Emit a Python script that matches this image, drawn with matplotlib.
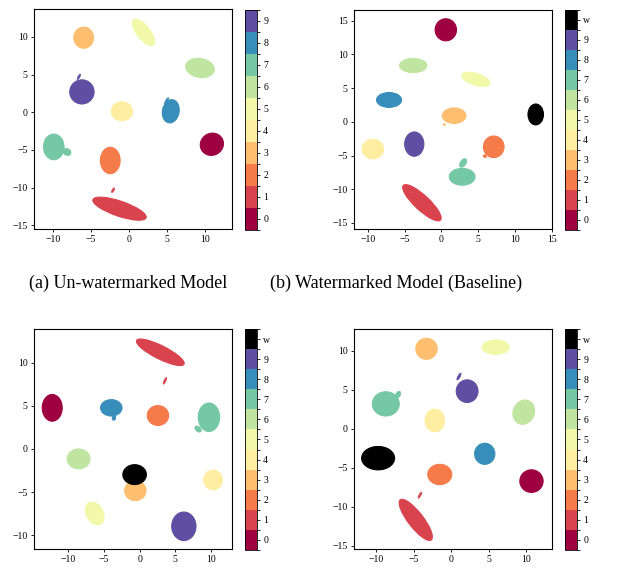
import matplotlib
matplotlib.use("Agg")
import matplotlib.pyplot as plt
import numpy as np
from matplotlib.patches import Ellipse
from matplotlib.colors import ListedColormap, BoundaryNorm
from matplotlib.cm import ScalarMappable

plt.rcParams['font.family'] = ['Liberation Serif', 'DejaVu Serif']

# cluster blobs: label, centre x, centre y, width, height, angle (deg)
a_lab = [3, 5, 6, 9, 4, 8, 7, 0, 2, 1]
a_x = [-5.97, 1.9, 9.34, -6.2, -0.94, 5.49, -9.9, 10.9, -2.47, -1.25]
a_y = [9.9, 10.6, 5.88, 2.7, 0.13, 0.13, -4.6, -4.25, -6.4, -12.8]
a_w = [2.6, 4.2, 3.8, 3.2, 2.8, 3.1, 3.4, 3.1, 3.5, 7.4]
a_h = [2.8, 1.75, 2.5, 3.2, 2.5, 2.2, 2.7, 2.9, 2.6, 2.0]
a_ang = [0, -52, -10, 0, 0, 80, 90, 30, 90, -19]
# small satellite pieces
a_tail = [(7, -8.16, -5.27, 1.1, 0.9), (9, -6.6, 4.7, 0.25, 0.8),
          (8, 4.95, 1.5, 0.3, 1.0), (1, -2.1, -10.35, 0.25, 0.7)]

b_lab = [0, 6, 5, 8, 3, 10, 9, 4, 2, 7, 1]
b_x = [0.6, -3.82, 4.67, -7.1, 1.73, 12.8, -3.68, -9.3, 7.1, 2.82, -2.64]
b_y = [13.66, 8.36, 6.32, 3.25, 0.92, 1.1, -3.3, -4.04, -3.7, -8.15, -12.0]
b_w = [2.9, 3.7, 4.0, 3.4, 3.2, 2.1, 2.6, 2.9, 2.8, 3.5, 7.2]
b_h = [3.27, 2.1, 1.7, 2.2, 2.3, 3.1, 3.6, 2.9, 3.2, 2.5, 2.1]
b_ang = [0, 0, -20, 0, 0, 0, 0, 0, 0, 0, -46]
b_tail = [(7, 2.95, -6.1, 0.8, 1.4), (3, 0.4, -0.4, 0.3, 0.3),
          (2, 5.9, -5.1, 0.5, 0.4)]

c_lab = [1, 0, 8, 2, 7, 6, 3, 10, 4, 5, 9]
c_x = [2.9, -12.25, -3.97, 2.57, 9.72, -8.55, -0.6, -0.7, 10.3, -6.3, 6.2]
c_y = [11.2, 4.76, 4.76, 3.87, 3.67, -1.16, -4.84, -2.98, -3.6, -7.47, -8.97]
c_w = [7.2, 2.8, 3.0, 3.0, 3.0, 3.2, 3.0, 3.3, 2.6, 3.0, 3.4]
c_h = [1.6, 3.1, 1.9, 2.3, 3.3, 2.3, 2.3, 2.3, 2.3, 2.2, 3.3]
c_ang = [-22, 0, 0, 0, 0, 0, 0, 0, 0, -45, 0]
c_tail = [(1, 3.55, 7.9, 0.25, 0.9), (7, 8.2, 2.3, 1.0, 0.6),
          (8, -3.6, 3.6, 0.5, 0.6)]

d_lab = [3, 5, 9, 7, 6, 4, 10, 8, 2, 0, 1]
d_x = [-3.33, 5.9, 2.09, -8.76, 9.64, -2.22, -9.78, 4.44, -1.56, 10.67, -4.76]
d_y = [10.26, 10.47, 4.83, 3.2, 2.14, 1.07, -3.76, -3.2, -5.85, -6.7, -11.67]
d_w = [2.85, 3.6, 2.9, 3.6, 2.8, 2.6, 4.4, 2.7, 3.2, 3.1, 6.6]
d_h = [2.7, 1.85, 2.9, 3.1, 3.2, 2.9, 3.0, 2.7, 2.6, 2.9, 2.0]
d_ang = [0, 0, 0, 0, -30, 0, 0, 0, 0, 0, -51]
d_tail = [(9, 1.0, 6.7, 0.3, 1.0), (7, -7.1, 4.4, 0.6, 0.9),
          (1, -4.2, -8.5, 0.25, 0.9)]

captions = ['(a) Un-watermarked Model', '(b) Watermarked Model (Baseline)']

base = plt.get_cmap('Spectral', 10)
cols10 = [base(i) for i in range(10)]
cols11 = cols10 + [(0, 0, 0, 1)]

fig = plt.figure(figsize=(6.21, 5.68), dpi=100)

panels = [
    (a_lab, a_x, a_y, a_w, a_h, a_ang, a_tail, (-12.5, 13.55), (-15.5, 13.7),
     [-10, -5, 0, 5, 10], [-15, -10, -5, 0, 5, 10], 10,
     [0.0548, 0.5968, 0.3188, 0.3873], [0.3945, 0.5951, 0.0193, 0.3873]),
    (b_lab, b_x, b_y, b_w, b_h, b_ang, b_tail, (-11.86, 15.0), (-15.9, 16.6),
     [-10, -5, 0, 5, 10, 15], [-15, -10, -5, 0, 5, 10, 15], 11,
     [0.5700, 0.5968, 0.3188, 0.3856], [0.9098, 0.5951, 0.0193, 0.3873]),
    (c_lab, c_x, c_y, c_w, c_h, c_ang, c_tail, (-14.8, 12.95), (-11.6, 13.9),
     [-10, -5, 0, 5, 10], [-10, -5, 0, 5, 10], 11,
     [0.0548, 0.0335, 0.3188, 0.3873], [0.3945, 0.0317, 0.0193, 0.3891]),
    (d_lab, d_x, d_y, d_w, d_h, d_ang, d_tail, (-13.0, 13.4), (-15.4, 12.8),
     [-10, -5, 0, 5, 10], [-15, -10, -5, 0, 5, 10], 11,
     [0.5700, 0.0335, 0.3188, 0.3873], [0.9098, 0.0317, 0.0193, 0.3891]),
]

for (lab, xs, ys, ws, hs, angs, tails, xl, yl, xt, yt, n, pos, cpos) in panels:
    cols = cols10 if n == 10 else cols11
    ax = fig.add_axes(pos)
    for k, c in enumerate(lab):
        ax.add_patch(Ellipse((xs[k], ys[k]), ws[k], hs[k], angle=angs[k],
                             facecolor=cols[c], edgecolor=cols[c], lw=0.8))
    for (c, tx, ty, tw, th) in tails:
        ax.add_patch(Ellipse((tx, ty), tw, th, angle=-30,
                             facecolor=cols[c], edgecolor=cols[c], lw=0.5))
    ax.set_xlim(*xl)
    ax.set_ylim(*yl)
    ax.set_xticks(xt)
    ax.set_yticks(yt)
    ax.tick_params(labelsize=7, length=2.5, width=0.6, pad=2)
    for s in ax.spines.values():
        s.set_linewidth(0.8)

    cax = fig.add_axes(cpos)
    cmap = ListedColormap(cols)
    norm = BoundaryNorm(np.arange(n + 1) - 0.5, n)
    cb = fig.colorbar(ScalarMappable(norm=norm, cmap=cmap), cax=cax,
                      ticks=np.arange(n))
    ticklabels = [str(i) for i in range(10)] + (['w'] if n == 11 else [])
    cb.ax.set_yticklabels(ticklabels)
    cb.ax.tick_params(labelsize=7, length=2.5, width=0.6, pad=2)
    cb.outline.set_linewidth(0.6)

fig.text(0.206, 0.502, captions[0], ha='center', va='center', fontsize=13)
fig.text(0.638, 0.502, captions[1], ha='center', va='center', fontsize=13)

fig.savefig('out.png', dpi=100)
